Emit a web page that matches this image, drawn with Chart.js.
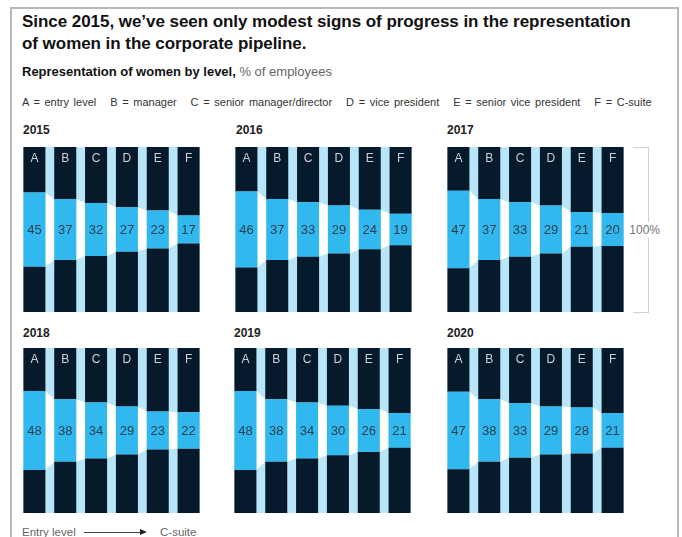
<!DOCTYPE html>
<html>
<head>
<meta charset="utf-8">
<script src="https://cdn.jsdelivr.net/npm/chart.js@4.4.1/dist/chart.umd.min.js"></script>
<style>
  body { margin: 0; width: 682px; height: 537px; overflow: hidden; position: relative; background: #fff; font-family: "Liberation Sans", Arial, sans-serif; }
  .frame { position: absolute; left: 10px; top: 7px; width: 665px; height: 600px; border: 2px solid #b8b8b8; }
  .txt { position: absolute; white-space: nowrap; }
  .title { left: 22px; top: 11px; font-size: 17px; font-weight: bold; line-height: 22px; color: #111; letter-spacing: -0.05px; }
  .sub { left: 22px; top: 64px; font-size: 13px; line-height: 16px; color: #111; }
  .sub span { font-weight: normal; color: #666; }
  .legend { left: 22px; top: 95px; font-size: 11px; line-height: 14px; color: #333; word-spacing: 1.6px; }
  .year { font-size: 12px; font-weight: bold; line-height: 14px; color: #222; }
  .panel { position: absolute; width: 185px; height: 165px; }
  .bracket { position: absolute; left: 633px; top: 147px; width: 15px; height: 164px; border: 1px solid #d0d0d0; border-left: none; }
  .bracket span { position: absolute; right: -12px; top: 74px; background: #fff; font-size: 12px; line-height: 16px; color: #777; }
  .foot { left: 22px; top: 525px; font-size: 11.5px; line-height: 14px; color: #666; }
  .arrow { position: absolute; left: 84px; top: 532px; width: 58px; height: 1px; background: #444; }
  .arrowhead { position: absolute; left: 140px; top: 529px; width: 0; height: 0; border-top: 3.5px solid transparent; border-bottom: 3.5px solid transparent; border-left: 7px solid #222; }
</style>
</head>
<body>
<div class="frame"></div>
<div class="txt title">Since 2015, we’ve seen only modest signs of progress in the representation<br>of women in the corporate pipeline.</div>
<div class="txt sub"><b>Representation of women by level,</b> <span>% of employees</span></div>
<div class="txt legend">A = entry level &nbsp; B = manager &nbsp; C = senior manager/director &nbsp; D = vice president &nbsp; E = senior vice president &nbsp; F = C-suite</div>

<div class="txt year" style="left:23px;top:123px">2015</div>
<div class="txt year" style="left:236px;top:123px">2016</div>
<div class="txt year" style="left:447px;top:123px">2017</div>
<div class="txt year" style="left:23px;top:326px">2018</div>
<div class="txt year" style="left:234px;top:326px">2019</div>
<div class="txt year" style="left:447px;top:326px">2020</div>

<div class="panel" style="left:18.5px;top:147px"><canvas id="c2015"></canvas></div>
<div class="panel" style="left:231px;top:147px"><canvas id="c2016"></canvas></div>
<div class="panel" style="left:442.5px;top:147px"><canvas id="c2017"></canvas></div>
<div class="panel" style="left:18.5px;top:348px"><canvas id="c2018"></canvas></div>
<div class="panel" style="left:229.5px;top:348px"><canvas id="c2019"></canvas></div>
<div class="panel" style="left:442.5px;top:348px"><canvas id="c2020"></canvas></div>

<div class="bracket"><span>100%</span></div>

<div class="txt foot">Entry level</div>
<div class="arrow"></div>
<div class="arrowhead"></div>
<div class="txt foot" style="left:160px">C-suite</div>

<script>
var levels = ['A', 'B', 'C', 'D', 'E', 'F'];
var years = ['2015', '2016', '2017', '2018', '2019', '2020'];
var women2015 = [45, 37, 32, 27, 23, 17];
var women2016 = [46, 37, 33, 29, 24, 19];
var women2017 = [47, 37, 33, 29, 21, 20];
var women2018 = [48, 38, 34, 29, 23, 22];
var women2019 = [48, 38, 34, 30, 26, 21];
var women2020 = [47, 38, 33, 29, 28, 21];
var womenByYear = [women2015, women2016, women2017, women2018, women2019, women2020];

var navy = '#061a2c';
var cyan = '#31b8ee';
var pale = '#b8e6f8';

// light blue band behind bars, white funnel between segments, letters and values
var pipelinePlugin = {
    id: 'pipeline',
    beforeDatasetsDraw: function (chart) {
        var ctx = chart.ctx;
        var bars = chart.getDatasetMeta(1).data;
        var area = chart.chartArea;
        var first = bars[0], last = bars[bars.length - 1];
        ctx.save();
        ctx.fillStyle = pale;
        ctx.fillRect(first.x - first.width / 2, area.top, (last.x + last.width / 2) - (first.x - first.width / 2), area.bottom - area.top);
        ctx.fillStyle = '#fff';
        for (var i = 0; i < bars.length - 1; i++) {
            var a = bars[i], b = bars[i + 1];
            ctx.beginPath();
            ctx.moveTo(a.x + a.width / 2, a.y);
            ctx.lineTo(b.x - b.width / 2, b.y);
            ctx.lineTo(b.x - b.width / 2, b.base);
            ctx.lineTo(a.x + a.width / 2, a.base);
            ctx.closePath();
            ctx.fill();
        }
        ctx.restore();
    },
    afterDatasetsDraw: function (chart) {
        var ctx = chart.ctx;
        var bars = chart.getDatasetMeta(1).data;
        var vals = chart.data.datasets[1].data;
        var yTop = chart.scales.y.getPixelForValue(100);
        ctx.save();
        ctx.textAlign = 'center';
        ctx.textBaseline = 'middle';
        for (var i = 0; i < bars.length; i++) {
            ctx.font = '12px "Liberation Sans", Arial, sans-serif';
            ctx.fillStyle = '#c8d1da';
            ctx.fillText(chart.data.labels[i], bars[i].x, yTop + 12);
            ctx.font = '13px "Liberation Sans", Arial, sans-serif';
            ctx.fillStyle = '#2a4152';
            ctx.fillText(vals[i], bars[i].x, (bars[i].y + bars[i].base) / 2 + 1);
        }
        ctx.restore();
    }
};

function makeChart(year, values) {
    var rest = values.map(function (v) { return (100 - v) / 2; });
    new Chart(document.getElementById('c' + year), {
        type: 'bar',
        data: {
            labels: levels,
            datasets: [
                { label: 'below', data: rest, backgroundColor: navy },
                { label: 'women', data: values, backgroundColor: cyan },
                { label: 'above', data: rest, backgroundColor: navy }
            ]
        },
        options: {
            responsive: true,
            maintainAspectRatio: false,
            animation: false,
            layout: { padding: 0 },
            datasets: {
                bar: { barPercentage: 0.714, categoryPercentage: 1, borderWidth: 0, inflateAmount: 0 }
            },
            scales: {
                x: { stacked: true, display: false },
                y: { stacked: true, display: false, min: 0, max: 100 }
            },
            plugins: {
                legend: { display: false },
                tooltip: { enabled: false }
            }
        },
        plugins: [pipelinePlugin]
    });
}

for (var i = 0; i < years.length; i++) {
    makeChart(years[i], womenByYear[i]);
}
</script>
</body>
</html>
